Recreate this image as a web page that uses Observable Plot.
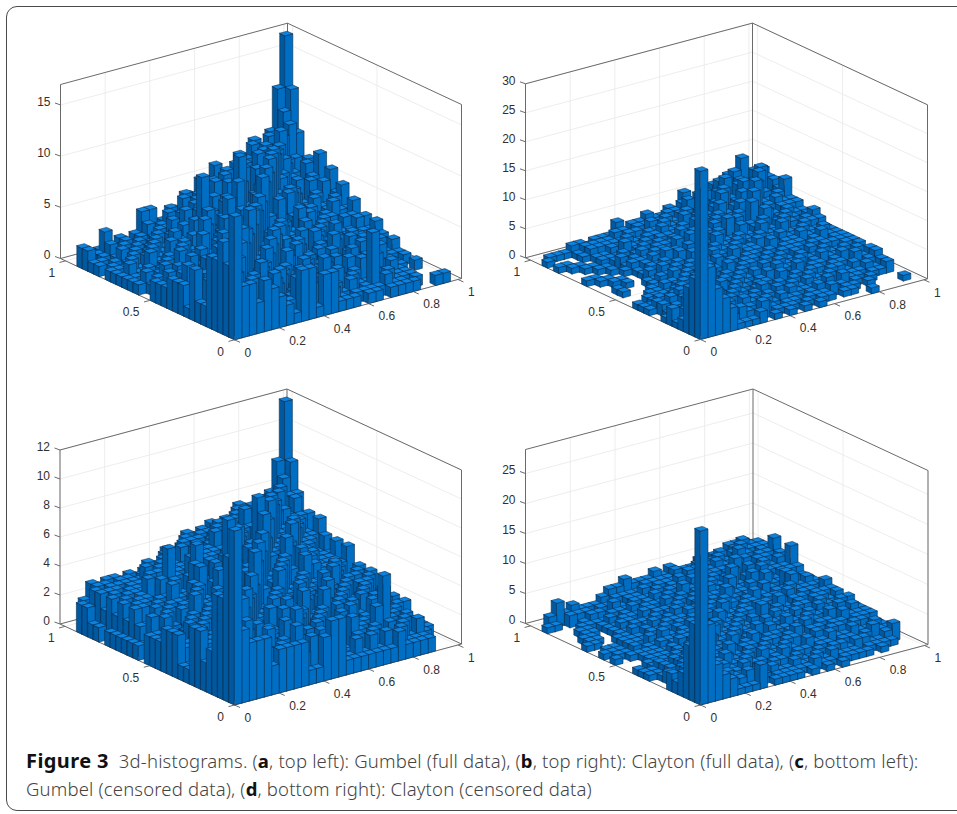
<!DOCTYPE html>
<html><head><meta charset="utf-8">
<script src="https://cdn.jsdelivr.net/npm/d3@7"></script>
<script src="https://cdn.jsdelivr.net/npm/@observablehq/plot@0.6"></script>
<style>
html,body{margin:0;padding:0;background:#fff;width:957px;height:814px;overflow:hidden}
#frame{position:absolute;left:6px;top:6px;width:1000px;height:805px;border:1px solid #4a4a4a;border-radius:11px;box-sizing:border-box}
#chart{position:absolute;left:0;top:0}
#caption{position:absolute;left:26px;top:747px;width:925px;font:300 18.5px/27.5px "Noto Sans",sans-serif;color:#444;letter-spacing:.16px;white-space:nowrap}
#caption b{color:#111;font-weight:700}
</style></head><body>
<div id="frame"></div><div id="chart"></div>
<div id="caption"><b style="font-size:20px;letter-spacing:.4px">Figure 3</b>&nbsp;&nbsp;3d-histograms. (<b>a</b>, top left): Gumbel (full data), (<b>b</b>, top right): Clayton (full data), (<b>c</b>, bottom left):<br>Gumbel (censored data), (<b>d</b>, bottom right): Clayton (censored data)</div>
<script>
// Histogram counts: each row is a y bin, each entry an x bin.
const gumbelFull = [
[12,5,5,3,5,4,3,2,1,5,5,1,4,4,1,1,1,0,1,1,0,1,1,1,1,0,0,1,1],
[7,6,4,5,3,2,5,1,2,4,1,3,2,1,2,1,0,1,1,1,1,2,1,1,0,1,0,0,0],
[9,3,7,4,5,6,2,4,1,2,3,1,2,3,1,2,1,2,0,1,6,1,2,1,1,1,0,0,0],
[7,4,5,8,4,3,5,2,3,1,2,4,1,2,2,1,3,1,2,1,1,2,1,1,1,1,0,0,0],
[7,5,3,6,9,4,3,5,2,4,1,2,3,1,2,4,1,2,1,2,3,1,3,1,2,1,0,0,0],
[2,3,6,4,5,7,3,4,6,2,3,1,2,4,1,1,3,2,1,3,1,2,1,2,1,0,1,0,1],
[2,4,2,5,3,6,8,3,4,5,2,3,1,2,3,2,1,2,3,1,2,1,2,1,3,1,1,0,0],
[5,2,3,3,6,4,5,7,3,4,6,2,3,2,1,3,2,1,2,2,1,3,1,2,2,1,1,0,1],
[1,3,4,2,3,5,3,5,9,4,3,5,2,4,2,1,3,2,1,3,2,1,2,3,1,2,1,1,1],
[3,2,1,5,4,2,6,4,5,7,4,3,6,2,3,4,2,1,3,2,4,1,2,2,3,1,1,1,2],
[3,1,2,3,2,4,3,5,3,6,8,4,3,5,3,2,4,2,1,3,2,3,1,3,2,2,1,2,1],
[3,2,4,1,3,2,5,3,4,3,5,8,4,5,3,4,2,3,2,4,1,2,3,1,3,1,2,2,2],
[2,1,3,2,2,3,2,4,3,4,3,5,7,4,3,5,3,2,4,1,3,2,2,1,2,1,2,1,3],
[2,3,1,2,4,2,3,2,4,3,5,3,6,8,4,3,5,2,3,3,1,3,2,2,1,2,2,2,2],
[2,1,2,3,2,3,4,3,2,5,3,6,4,5,7,4,2,4,3,2,4,2,3,1,3,2,2,3,3],
[0,2,3,1,4,2,3,5,3,4,6,3,5,4,6,9,5,3,4,3,5,3,2,3,2,2,3,3,2],
[0,1,2,3,1,4,2,3,6,3,4,5,3,6,4,7,8,4,6,3,4,2,4,2,3,3,2,2,4],
[1,2,1,2,3,2,4,3,2,5,3,4,7,4,5,3,6,9,5,4,6,3,3,4,2,3,4,3,3],
[1,0,2,1,2,4,1,3,4,2,6,3,5,4,8,5,4,7,8,5,4,6,4,2,3,2,3,4,5],
[1,1,1,3,2,1,3,2,3,5,9,4,3,6,4,10,5,6,7,9,5,4,5,3,3,4,3,3,4],
[1,2,1,1,3,2,2,4,3,2,4,3,5,4,6,5,7,4,8,6,9,5,4,5,3,3,4,5,6],
[1,0,2,1,2,3,2,1,3,4,3,5,3,6,4,7,5,8,5,9,7,9,6,4,4,3,5,3,3],
[1,1,1,2,1,2,3,2,3,2,5,3,4,5,7,4,6,5,8,6,8,7,8,6,4,5,4,5,7],
[0,1,0,1,2,1,2,3,2,4,2,3,5,3,6,5,7,6,5,8,6,7,7,8,7,5,4,6,4],
[1,0,1,2,1,2,1,2,3,3,2,4,3,5,4,6,5,7,6,6,6,7,8,7,8,6,5,4,6],
[1,1,0,1,2,1,2,1,2,3,4,2,5,3,5,4,6,5,6,7,6,7,7,8,6,9,6,6,5],
[2,0,1,2,1,2,1,2,3,2,3,4,2,5,3,6,4,7,5,6,6,6,8,7,7,7,8,9,8],
[2,0,1,3,1,2,1,2,4,4,2,1,3,2,4,3,5,3,6,5,4,7,6,8,7,8,8,10,12],
[0,0,0,1,1,0,1,1,1,2,1,2,1,3,2,4,3,4,3,5,4,5,6,5,7,6,8,12,17]];
const claytonFull = [
[29,12,8,6,4,1,1,1,2,0,1,0,1,0,1,0,1,0,0,0,0,0,0,1,0,0,0,0,0],
[10,5,4,3,4,2,3,2,1,3,0,1,1,1,0,1,0,1,1,0,1,1,0,0,0,0,0,0,1],
[8,6,3,5,2,3,1,2,2,1,2,1,0,1,1,0,1,1,1,2,0,1,1,0,1,0,0,0,0],
[2,4,7,3,4,2,3,1,3,2,1,2,1,2,1,1,0,1,2,1,1,1,0,1,0,1,0,0,0],
[1,3,5,6,3,4,2,3,1,2,2,1,2,1,1,2,1,1,1,1,2,0,2,1,1,0,1,1,2],
[3,2,4,3,5,3,4,2,3,2,1,2,3,1,2,1,2,1,2,1,1,2,1,1,1,1,2,1,2],
[1,2,1,4,3,4,2,3,2,3,2,1,2,2,1,2,1,2,1,2,1,1,2,2,1,2,1,2,3],
[0,1,2,3,3,2,5,3,4,2,3,2,1,2,2,1,3,1,2,1,2,2,1,2,2,1,3,2,3],
[0,2,3,2,1,3,4,4,2,3,2,3,2,1,2,3,2,2,1,3,1,2,2,1,2,3,2,3,2],
[1,2,1,2,3,2,3,3,5,2,3,2,3,2,3,1,2,3,2,2,3,1,2,3,2,2,3,2,3],
[1,1,2,1,2,3,2,4,3,3,2,3,2,3,2,2,3,1,3,2,2,3,2,2,3,2,2,3,3],
[1,0,1,1,1,2,3,2,3,4,3,2,4,2,3,3,2,3,2,3,2,3,2,3,2,3,3,3,3],
[0,0,1,1,1,1,2,3,2,3,4,3,2,3,2,3,3,2,3,2,3,3,3,2,3,3,2,3,3],
[0,0,0,1,1,2,2,1,3,2,3,3,4,2,3,2,3,3,2,3,2,3,3,3,2,3,4,3,3],
[0,0,0,0,1,1,1,3,2,3,2,4,3,3,2,4,2,3,3,2,4,2,3,3,4,3,3,4,3],
[0,1,0,0,0,1,2,2,3,2,3,2,3,4,3,2,4,3,3,4,2,3,4,3,3,4,3,3,3],
[0,1,0,0,0,1,1,3,2,3,2,4,2,3,4,3,3,4,2,3,4,3,3,5,3,3,4,4,4],
[0,0,0,1,0,0,2,1,3,2,4,2,3,3,3,5,3,3,4,3,3,5,3,3,5,4,3,4,5],
[0,0,1,1,0,0,1,2,2,4,2,3,4,2,4,3,5,3,3,5,3,4,5,3,4,5,4,3,4],
[0,1,1,0,0,0,1,2,3,2,3,3,2,5,3,3,4,3,6,3,4,4,3,6,3,4,5,4,4],
[1,1,0,0,0,1,2,2,2,3,3,2,4,3,4,3,4,5,3,4,5,3,7,4,5,4,5,5,5],
[0,0,0,0,1,0,1,2,3,2,3,3,3,3,2,4,3,3,5,4,3,5,4,8,4,5,6,5,5],
[0,0,0,1,1,0,2,1,2,3,2,3,2,3,4,3,5,4,3,5,4,4,6,4,9,5,5,6,8],
[0,0,1,1,0,0,1,2,1,2,3,2,3,3,3,4,3,5,4,3,6,4,5,7,5,8,6,5,6],
[0,1,1,0,0,1,1,1,3,2,2,3,3,4,3,3,5,3,5,4,5,7,4,5,8,6,9,5,7],
[1,1,0,0,0,1,1,2,1,3,2,2,3,3,4,3,3,5,3,6,4,5,7,5,7,6,7,9,7],
[0,0,0,0,1,2,2,2,2,2,3,3,2,4,3,4,3,4,6,3,5,4,6,8,6,7,6,8,8],
[1,0,0,0,1,2,2,2,2,3,3,2,3,3,3,3,4,4,5,5,4,6,5,7,6,8,10,7,7],
[0,1,1,1,2,2,1,2,2,2,4,2,3,3,4,3,3,4,3,6,4,5,4,6,5,7,7,6,5]];
const gumbelCensored = [
[12,5,4,4,4,2,3,3,3,3,1,1,3,4,4,1,1,1,1,1,1,1,2,1,1,1,1,0,0],
[10,3,4,3,2,3,1,3,2,4,2,3,1,2,2,1,1,2,1,2,1,2,1,2,1,1,1,0,0],
[7,4,2,5,3,2,4,1,3,2,3,1,2,3,1,2,1,1,2,1,2,1,1,1,2,1,2,1,0],
[7,3,5,3,4,3,2,3,2,4,1,2,3,1,2,1,3,1,3,2,1,2,1,2,1,2,1,1,1],
[3,4,2,4,6,3,4,2,3,1,2,3,1,2,3,2,1,2,1,2,2,1,3,5,2,1,2,1,1],
[2,2,3,2,4,5,2,3,1,3,2,2,4,1,2,3,2,1,3,1,2,2,1,2,1,2,1,1,1],
[4,3,2,3,3,4,6,3,2,3,1,4,2,3,1,2,3,2,1,2,3,1,2,3,1,2,2,1,1],
[4,2,3,2,4,3,4,5,3,2,4,2,3,2,3,1,2,3,2,3,1,3,2,1,3,2,1,2,2],
[1,2,1,3,2,3,3,4,5,3,2,3,2,4,2,3,1,2,4,1,3,2,1,3,2,2,3,1,1],
[1,1,3,2,2,4,2,3,4,6,3,2,4,2,3,2,4,2,1,3,2,3,2,2,3,1,2,2,2],
[3,2,1,3,2,2,4,2,3,4,5,3,2,4,3,3,2,3,2,3,4,2,3,1,2,3,2,2,1],
[3,1,2,1,3,2,3,3,2,3,4,7,3,2,4,3,2,4,3,2,3,3,2,3,2,3,3,1,2],
[3,2,2,3,1,3,2,3,4,2,4,3,6,4,3,5,3,2,4,3,2,4,3,2,3,2,2,3,1],
[2,2,1,2,3,2,3,2,3,4,3,4,4,7,3,4,5,3,3,4,3,2,3,4,2,3,3,2,3],
[2,1,2,1,2,3,2,3,3,2,5,3,5,3,6,4,3,5,3,3,5,3,3,3,4,2,2,3,2],
[2,2,3,2,1,2,4,2,3,4,3,5,3,5,4,7,4,3,5,4,3,4,4,2,3,3,2,2,3],
[0,3,1,3,2,3,2,4,3,3,5,3,4,4,6,4,8,5,4,6,3,5,3,3,3,2,3,1,1],
[1,1,2,2,3,2,3,3,4,3,4,4,8,5,4,6,9,6,5,4,5,4,3,4,3,3,3,3,4],
[1,2,2,3,2,3,3,2,4,5,3,5,4,6,7,4,5,6,7,5,5,5,4,4,4,3,3,3,2],
[1,3,3,2,3,2,4,3,3,5,4,5,4,5,4,6,5,5,6,8,5,5,6,4,4,3,3,3,4],
[1,2,3,3,2,3,3,4,3,4,6,5,5,4,5,5,6,5,6,6,8,5,5,6,4,4,3,3,3],
[1,3,2,3,3,2,4,6,4,3,5,4,5,5,5,6,5,6,6,5,6,7,5,5,5,4,4,3,4],
[1,2,3,2,3,4,3,3,4,4,4,4,5,5,6,5,5,5,7,5,6,6,7,5,5,5,4,4,5],
[0,3,2,3,3,3,4,4,3,4,4,4,5,4,5,6,5,6,5,6,5,6,5,6,6,5,5,4,3],
[1,2,3,2,3,3,3,3,4,4,4,5,4,5,4,5,6,5,6,5,6,5,6,5,7,5,5,5,5],
[1,3,3,3,2,3,3,4,3,4,4,4,5,5,5,4,5,5,5,6,5,6,5,6,6,7,5,6,4],
[2,3,2,3,3,3,3,3,4,3,4,4,4,5,4,5,5,4,5,5,6,5,6,5,6,6,6,6,6],
[2,1,3,3,1,3,3,2,3,1,3,4,2,4,5,2,5,3,4,5,2,6,5,3,5,6,3,7,8],
[0,2,3,1,3,3,1,3,2,3,1,3,4,2,4,3,1,4,5,3,5,2,5,4,5,3,6,8,12]];
const claytonCensored = [
[29,13,6,4,3,1,1,1,4,0,1,1,1,1,0,1,0,1,0,1,0,0,0,0,0,0,0,0,0],
[13,6,4,3,3,2,2,3,1,1,0,1,1,1,1,1,2,1,1,0,1,1,1,1,0,1,0,0,0],
[9,5,3,4,2,3,2,1,2,2,1,2,1,1,2,1,1,2,1,2,1,1,1,0,1,1,1,1,0],
[4,3,5,3,4,1,2,2,3,1,2,1,2,2,1,2,1,1,2,1,2,2,1,2,2,1,1,2,3],
[2,4,3,4,2,3,3,2,1,3,2,2,1,2,3,1,2,2,1,2,2,1,2,2,1,2,3,2,2],
[3,2,2,3,4,2,3,4,2,2,3,1,3,2,2,3,2,1,3,2,2,3,2,2,3,2,2,3,2],
[0,1,3,2,3,4,2,3,3,2,2,3,2,3,2,2,3,3,2,2,3,2,3,3,2,3,3,2,2],
[0,2,1,3,2,3,5,3,2,4,2,3,3,2,3,3,2,3,4,2,3,3,2,3,3,2,3,3,3],
[0,1,2,1,3,2,3,4,3,3,3,2,3,4,2,3,3,2,3,3,4,2,3,3,2,4,3,3,3],
[1,1,2,1,2,3,2,3,5,3,2,4,2,3,3,2,4,3,3,2,3,4,3,2,4,3,3,4,3],
[1,1,2,1,2,2,3,3,3,4,3,3,4,2,3,4,3,3,2,4,3,3,4,3,3,3,4,3,3],
[1,0,1,1,1,2,2,3,2,3,5,3,3,4,3,3,3,4,3,3,3,4,3,3,4,3,3,4,4],
[0,0,1,1,1,1,2,2,3,3,3,5,3,3,4,3,4,3,3,4,3,3,4,4,3,4,3,3,3],
[0,0,0,1,1,1,2,3,3,2,4,3,4,3,3,4,3,3,5,3,4,3,3,4,3,4,4,3,4],
[0,0,0,1,1,1,1,2,3,3,3,4,3,5,3,3,4,4,3,4,3,5,3,4,4,3,4,4,4],
[1,0,1,1,1,1,2,2,2,3,4,3,3,3,4,3,3,4,3,4,4,3,4,5,3,4,4,3,5],
[0,1,1,0,0,1,1,3,2,3,2,4,3,4,3,5,3,3,4,4,3,4,4,3,5,4,4,4,4],
[1,1,1,0,1,0,2,1,3,2,3,3,3,3,4,3,5,4,3,4,5,4,3,4,4,6,4,5,4],
[0,1,1,0,1,1,1,2,2,3,3,3,4,4,3,4,3,6,4,3,4,4,5,4,3,6,5,4,4],
[0,0,0,0,1,1,1,2,3,2,3,4,3,3,4,3,4,3,5,4,4,5,4,6,4,4,5,4,4],
[1,1,0,0,1,1,2,1,2,3,2,3,4,3,4,4,4,4,4,6,4,4,6,4,5,4,5,5,5],
[0,1,1,0,0,1,1,2,2,2,3,3,3,4,3,4,3,5,4,4,7,4,5,5,6,5,5,5,8],
[0,1,1,0,0,1,2,2,1,3,3,2,4,3,4,3,4,4,5,4,5,6,4,6,5,6,5,6,5],
[0,0,1,1,0,1,1,2,2,2,3,3,3,4,3,5,4,4,4,5,4,5,7,5,5,6,6,5,6],
[0,0,1,1,0,1,2,1,2,3,2,3,4,3,4,4,4,5,4,5,5,5,5,6,6,5,6,6,8],
[0,0,0,1,1,1,1,2,2,2,3,3,3,4,3,4,5,4,4,4,5,6,5,5,7,6,5,6,6],
[0,0,0,0,1,2,2,1,3,2,3,3,4,3,4,4,4,4,5,5,4,5,6,5,6,7,6,6,6],
[1,1,0,2,2,2,1,2,2,3,3,3,3,4,4,4,4,5,4,4,5,5,5,6,5,6,7,6,6],
[0,2,4,2,3,2,2,2,3,4,4,5,4,4,4,5,4,5,4,4,4,5,4,5,5,6,6,6,5]];

const xTicks = [0, 0.2, 0.4, 0.6, 0.8, 1];
const yTicks = [0, 0.5, 1];
const zTicksA = [0, 5, 10, 15];
const zTicksB = [0, 5, 10, 15, 20, 25, 30];
const zTicksC = [0, 2, 4, 6, 8, 10, 12];
const zTicksD = [0, 5, 10, 15, 20, 25];
const binWidth = 1 / 30, xLimit = 1.016, yLimit = 1.03;
const colors = {top: "#0a84e2", left: "#00589f", right: "#006ec2", edge: "#0b2f52", grid: "#e8e8e8", box: "#6a6a6a", text: "#303030"};

// Screen frame of each 3-d axes: where the front, left and right floor corners land.
const panels = [
  {counts: gumbelFull, zTicks: zTicksA, zMax: 17, front: [234, 339.3], left: [60, 258], right: [461, 278]},
  {counts: claytonFull, zTicks: zTicksB, zMax: 30, front: [700, 339], left: [525, 257.3], right: [927, 278.3]},
  {counts: gumbelCensored, zTicks: zTicksC, zMax: 12, front: [234, 704.5], left: [59.5, 623.5], right: [461, 643.5]},
  {counts: claytonCensored, zTicks: zTicksD, zMax: 29, front: [700, 704.5], left: [525, 623], right: [927.5, 644]}
];
const zSpan = 174;

const faces = [], links = [], ticks = [], labels = [];
panels.forEach((p, pi) => {
  const P = (x, y, z = 0) => ({
    x: p.front[0] + x / xLimit * (p.right[0] - p.front[0]) + y / yLimit * (p.left[0] - p.front[0]),
    y: p.front[1] + x / xLimit * (p.right[1] - p.front[1]) + y / yLimit * (p.left[1] - p.front[1]) - z / p.zMax * zSpan
  });
  const link = (a, b, kind) => links.push({x1: a.x, y1: a.y, x2: b.x, y2: b.y, kind});
  for (const z of p.zTicks) {
    link(P(0, yLimit, z), P(xLimit, yLimit, z), "grid");
    link(P(xLimit, yLimit, z), P(xLimit, 0, z), "grid");
    const a = P(0, yLimit, z);
    ticks.push({x1: a.x, y1: a.y, x2: a.x - 5.5, y2: a.y - 2});
    labels.push({x: a.x - 10, y: a.y - 3, text: String(z), anchor: "end"});
  }
  for (const x of xTicks) {
    link(P(x, yLimit), P(x, yLimit, p.zMax), "grid");
    link(P(x, yLimit), P(x, 0), "grid");
    const a = P(x, 0);
    ticks.push({x1: a.x, y1: a.y, x2: a.x + 5.5, y2: a.y + 2.5});
    labels.push({x: a.x + 10, y: a.y + 13, text: String(x), anchor: "start"});
  }
  for (const y of yTicks) {
    link(P(xLimit, y), P(xLimit, y, p.zMax), "grid");
    link(P(xLimit, y), P(0, y), "grid");
    const a = P(0, y);
    ticks.push({x1: a.x, y1: a.y, x2: a.x - 6, y2: a.y + 1.6});
    labels.push({x: a.x - 10.5, y: a.y + 12, text: String(y), anchor: "end"});
  }
  const top = p.zMax;
  [[P(0, yLimit), P(0, yLimit, top)], [P(xLimit, yLimit), P(xLimit, yLimit, top)], [P(xLimit, 0), P(xLimit, 0, top)],
   [P(0, yLimit, top), P(xLimit, yLimit, top)], [P(xLimit, yLimit, top), P(xLimit, 0, top)],
   [P(0, yLimit), P(xLimit, yLimit)], [P(xLimit, yLimit), P(xLimit, 0)],
   [P(0, yLimit), P(0, 0)], [P(0, 0), P(xLimit, 0)]].forEach(([a, b]) => link(a, b, "box"));

  const bars = [];
  p.counts.forEach((row, j) => row.forEach((h, i) => { if (h > 0) bars.push({i, j, h}); }));
  bars.sort((a, b) => (b.i + b.j) - (a.i + a.j));
  for (const {i, j, h} of bars) {
    const x0 = i * binWidth, x1 = (i + 1) * binWidth, y0 = j * binWidth, y1 = (j + 1) * binWidth;
    const add = (name, pts, fill) => pts.forEach(q => faces.push({id: `${pi}-${i}-${j}-${name}`, x: q.x, y: q.y, fill}));
    add("l", [P(x0, y0), P(x0, y1), P(x0, y1, h), P(x0, y0, h)], colors.left);
    add("r", [P(x0, y0), P(x1, y0), P(x1, y0, h), P(x0, y0, h)], colors.right);
    add("t", [P(x0, y0, h), P(x1, y0, h), P(x1, y1, h), P(x0, y1, h)], colors.top);
  }
});

const chart = Plot.plot({
  width: 957, height: 745, margin: 0,
  x: {domain: [0, 957], range: [0, 957], axis: null},
  y: {domain: [0, 745], range: [0, 745], axis: null},
  style: {background: "transparent"},
  marks: [
    Plot.link(links.filter(d => d.kind === "grid"), {x1: "x1", y1: "y1", x2: "x2", y2: "y2", stroke: colors.grid, strokeWidth: 0.8}),
    Plot.link(links.filter(d => d.kind === "box"), {x1: "x1", y1: "y1", x2: "x2", y2: "y2", stroke: colors.box, strokeWidth: 1}),
    Plot.line(faces, {x: "x", y: "y", z: "id", fill: "fill", stroke: colors.edge, strokeWidth: 0.6, curve: "linear-closed"}),
    Plot.link(ticks, {x1: "x1", y1: "y1", x2: "x2", y2: "y2", stroke: colors.box, strokeWidth: 1}),
    Plot.text(labels.filter(d => d.anchor === "start"), {x: "x", y: "y", text: "text", textAnchor: "start", fontSize: 12, fontFamily: "Liberation Sans", fill: colors.text}),
    Plot.text(labels.filter(d => d.anchor === "end"), {x: "x", y: "y", text: "text", textAnchor: "end", fontSize: 12, fontFamily: "Liberation Sans", fill: colors.text})
  ]
});
document.getElementById("chart").append(chart);
</script>
</body></html>
